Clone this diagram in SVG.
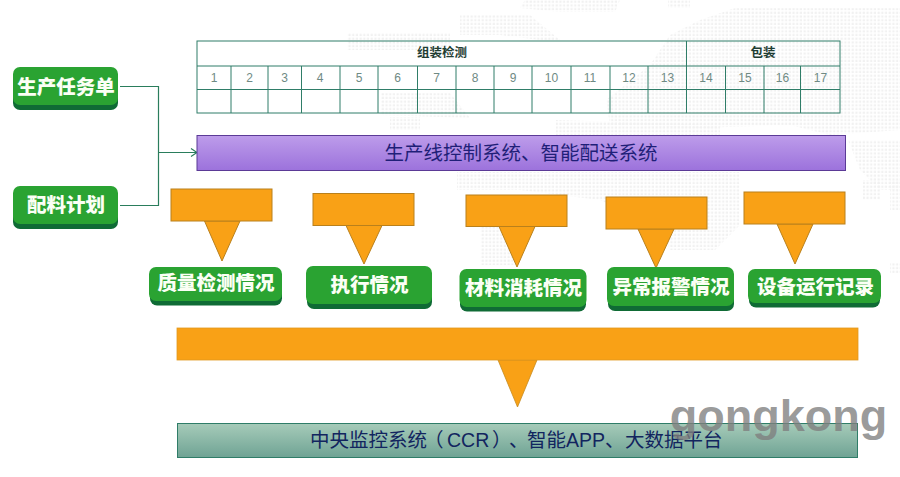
<svg xmlns="http://www.w3.org/2000/svg" width="900" height="477" viewBox="0 0 900 477">
<style>
text{font-family:"Liberation Sans","Noto Sans CJK SC",sans-serif;text-anchor:middle}
.cjk{font-family:"Noto Sans CJK SC","Liberation Sans",sans-serif}
.g{font-size:19.5px;font-weight:900;fill:#fbfff5}
.o{fill:#f9a116;stroke:#b9801c;stroke-width:1}
.t{fill:none;stroke:#2f7d68;stroke-width:1}
.n{font-size:12px;fill:#6f8a84}
.h{font-size:12.5px;font-weight:700;fill:#1f3d33}
.c{fill:none;stroke:#2a7d5c;stroke-width:1.2}
.base{fill:#0f6b35}
.top{fill:#2aa332}
</style>
<defs>
<pattern id="dots" width="3.7" height="3.7" patternUnits="userSpaceOnUse"><rect x="0.6" y="0.6" width="2.2" height="2.2" fill="#f1f1f1"/></pattern>
<linearGradient id="pu" x1="0" y1="0" x2="0" y2="1"><stop offset="0" stop-color="#bd9cea"/><stop offset="1" stop-color="#9c72dc"/></linearGradient>
<linearGradient id="te" x1="0" y1="0" x2="0" y2="1"><stop offset="0" stop-color="#a6cbb9"/><stop offset="1" stop-color="#6fa394"/></linearGradient>
<marker id="arr" markerWidth="9" markerHeight="10" refX="8" refY="5" orient="auto" markerUnits="userSpaceOnUse"><path d="M2 1L8 5L2 9" fill="none" stroke="#2a7d5c" stroke-width="1.2"/></marker>
</defs>
<rect width="900" height="477" fill="#fff"/>
<g id="map" fill="url(#dots)">
<polygon points="525,0 620,0 615,12 560,12 520,8"/>
<polygon points="460,15 530,15 560,40 540,40 500,35 460,35"/>
<polygon points="668,0 690,0 690,8 668,8"/>
<polygon points="735,8 900,8 900,130 830,135 790,125 700,128 610,125 606,100 650,65 670,35 700,20"/>
<polygon points="347,33 450,33 450,50 347,50"/>
<polygon points="381,93 450,93 470,118 381,115"/>
<polygon points="390,117 420,117 420,130 390,130"/>
<polygon points="556,120 720,125 720,135 556,135"/>
<polygon points="457,172 740,172 740,225 715,250 670,250 663,230 600,200 520,190 457,190"/>
<polygon points="480,200 515,200 515,265 480,265"/>
<polygon points="848,140 900,140 900,190 880,190 860,170"/>
<polygon points="863,180 880,180 880,200 863,200"/>
<polygon points="890,180 900,180 900,210 890,210"/>
<polygon points="890,263 900,263 900,273 890,273"/>
</g>
<g id="process-table">
<rect class="t" x="197" y="41" width="643" height="72"/>
<path class="t" d="M197 66H840M197 89.500H840M231 66V113M268 66V113M301.500 66V113M340 66V113M378 66V113M417.500 66V113M456 66V113M494 66V113M532 66V113M571 66V113M610 66V113M648 66V113M686.500 41V113M725.500 66V113M764 66V113M800.500 66V113"/>
<text class="h cjk" x="442" y="57">组装检测</text>
<text class="h cjk" x="763" y="57">包装</text>
<g class="n">
<text x="214" y="82">1</text><text x="249.500" y="82">2</text><text x="284.500" y="82">3</text><text x="320" y="82">4</text><text x="359" y="82">5</text><text x="397.500" y="82">6</text><text x="436.500" y="82">7</text><text x="475" y="82">8</text><text x="513" y="82">9</text><text x="551.500" y="82">10</text><text x="590" y="82">11</text><text x="629" y="82">12</text><text x="667.500" y="82">13</text><text x="706" y="82">14</text><text x="745" y="82">15</text><text x="782.500" y="82">16</text><text x="820.500" y="82">17</text>
</g>
</g>
<g id="connectors">
<path class="c" d="M120 86.500H158.500V205.500H120"/>
<path class="c" d="M158.500 152.500H197" marker-end="url(#arr)"/>
</g>
<g id="node-order">
<rect class="base" x="13" y="71" width="105" height="39" rx="7"/><rect class="top" x="13" y="67" width="105" height="38" rx="7"/>
<text class="g cjk" x="66" y="94">生产任务单</text>
</g>
<g id="node-plan">
<rect class="base" x="13" y="190" width="105" height="39" rx="7"/><rect class="top" x="13" y="186" width="105" height="38" rx="7"/>
<text class="g cjk" x="66" y="212">配料计划</text>
</g>
<g id="node-linecontrol">
<rect x="197" y="135.500" width="648.500" height="35" fill="url(#pu)" stroke="#5b3a96"/>
<text class="cjk" x="521" y="160" font-size="19.500" fill="#1f1f78">生产线控制系统、智能配送系统</text>
</g>
<g id="callout-1"><path class="o" d="M204.500 221L222 261L240 221Z"/><rect class="o" x="171" y="189" width="101" height="32"/></g>
<g id="callout-2"><path class="o" d="M346 225.500L364 264L382 225.500Z"/><rect class="o" x="313" y="193.500" width="101" height="32"/></g>
<g id="callout-3"><path class="o" d="M499 226.500L517 267L535 226.500Z"/><rect class="o" x="466" y="195" width="101" height="31.500"/></g>
<g id="callout-4"><path class="o" d="M638 229L656 268L674 229Z"/><rect class="o" x="606" y="197" width="101" height="32"/></g>
<g id="callout-5"><path class="o" d="M777 224L795 264L813 224Z"/><rect class="o" x="744" y="192" width="101" height="32"/></g>
<g id="node-quality">
<rect class="base" x="150" y="271" width="132" height="34.500" rx="7"/><rect class="top" x="149" y="267" width="133" height="34" rx="7"/>
<text class="g cjk" x="216" y="290">质量检测情况</text>
</g>
<g id="node-exec">
<rect class="base" x="307" y="270" width="125" height="39" rx="7"/><rect class="top" x="306" y="266" width="126" height="38" rx="7"/>
<text class="g cjk" x="369.500" y="292">执行情况</text>
</g>
<g id="node-material">
<rect class="base" x="460" y="274" width="126" height="37.500" rx="7"/><rect class="top" x="459.500" y="269" width="127" height="38" rx="7"/>
<text class="g cjk" x="523.500" y="295">材料消耗情况</text>
</g>
<g id="node-alarm">
<rect class="base" x="608" y="272" width="126" height="39" rx="7"/><rect class="top" x="607" y="267" width="127" height="39" rx="7"/>
<text class="g cjk" x="671" y="294">异常报警情况</text>
</g>
<g id="node-device">
<rect class="base" x="749" y="273" width="131" height="34.500" rx="7"/><rect class="top" x="748" y="269" width="133" height="34" rx="7"/>
<text class="g cjk" x="815.500" y="294">设备运行记录</text>
</g>
<g id="callout-main">
<path d="M498 360L517.500 407L537 360Z" fill="#f9a116" stroke="#c58a1e" stroke-width="0.800"/>
<rect x="177" y="328" width="681" height="32" fill="#f9a116" stroke="#e09a20" stroke-width="0.800"/>
</g>
<g id="node-central">
<rect x="177.500" y="423.500" width="680" height="34" fill="url(#te)" stroke="#2f7d68"/>
<text class="cjk" y="447" font-size="19.500" fill="#12255f" style="text-anchor:start"><tspan x="310">中央监控系统</tspan><tspan x="424">（</tspan><tspan x="447" style="font-family:'Liberation Sans',sans-serif">CCR</tspan><tspan x="492">）</tspan><tspan x="509">、</tspan><tspan x="527">智能</tspan><tspan x="566" style="font-family:'Liberation Sans',sans-serif">APP</tspan><tspan x="605">、</tspan><tspan x="625">大数据平台</tspan></text>
</g>
<text id="watermark" x="778.500" y="431" font-size="45" font-weight="700" fill="#7f7f7f" fill-opacity="0.8">gongkong</text>
</svg>
